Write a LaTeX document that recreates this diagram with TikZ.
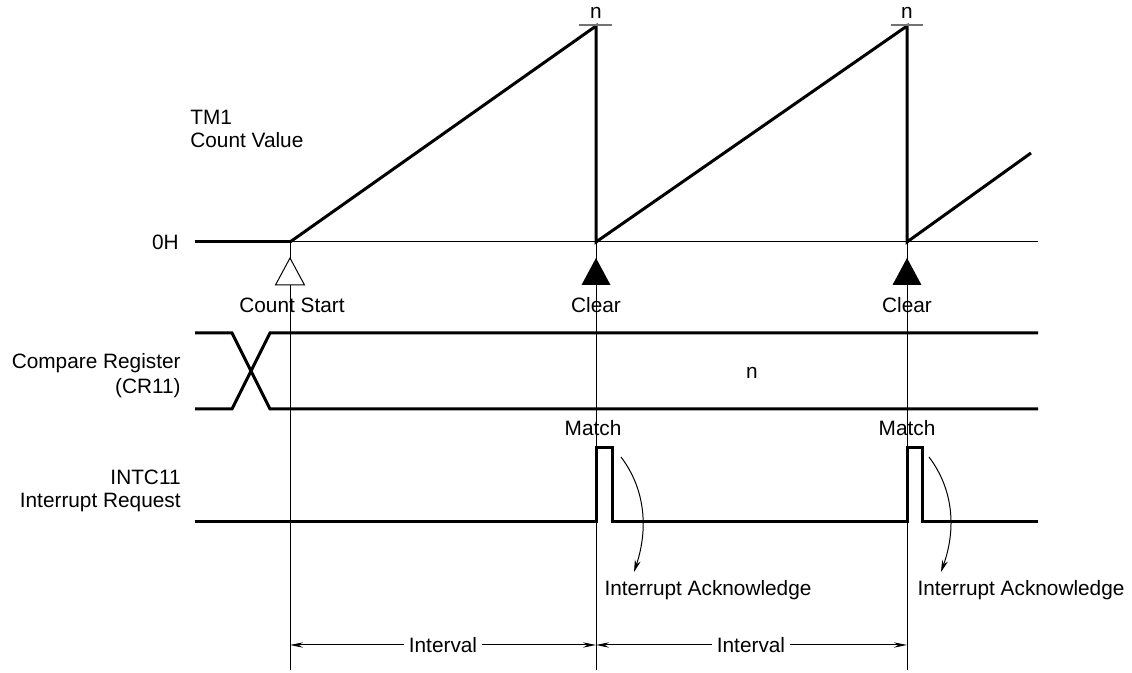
\documentclass[tikz,border=0pt]{standalone}
\usepackage{fontspec}
\setmainfont{Liberation Sans}
\usetikzlibrary{arrows.meta}
\begin{document}
\begin{tikzpicture}[x=0.5pt,y=-0.5pt,
  thickline/.style={line width=1.5pt, line join=miter},
  thinline/.style={line width=0.5pt},
  lbl/.style={font=\fontsize{10.4}{12.5}\selectfont, inner sep=0pt, text height=7.5pt, text depth=0pt},
  dimarrow/.style={line width=0.5pt, {Stealth[length=6.5pt,width=2.6pt]}-{Stealth[length=6.5pt,width=2.6pt]}},
  ackarrow/.style={line width=0.5pt, -{Stealth[length=6pt,width=3pt]}},
  nmark/.style={draw=black!55, line width=0.9pt},
]
\useasboundingbox (0,0) rectangle (1132,673);

% coordinates of the count value
\coordinate (z0) at (195,242);
\coordinate (s) at (290,242);
\coordinate (p1) at (596,26);
\coordinate (c1) at (596,242);
\coordinate (p2) at (907,26);
\coordinate (c2) at (907,242);
\coordinate (e3) at (1031,153);
\coordinate (z1) at (1038,242);

% thin vertical guide lines
\coordinate (v0b) at (290,670);
\coordinate (v1b) at (596,670);
\coordinate (v2b) at (907,670);
\draw[thinline] (s) -- (v0b);
\draw[thinline] (c1) -- (v1b);
\draw[thinline] (c2) -- (v2b);

% zero line
\draw[thickline] (z0) -- (s);
\draw[thinline] (s) -- (z1);

% sawtooth
\draw[thickline] (s) -- (p1) -- (c1) -- (p2) -- (c2) -- (e3);

% n markers
\draw[nmark] (579,25) -- (612,25);
\draw[nmark] (891,25) -- (923,25);
\node[lbl] (n1) at (596,11) {n};
\node[lbl] (n2) at (907,11) {n};

% left labels
\node[lbl, anchor=west] (tm1) at (190,117) {TM1};
\node[lbl, anchor=west] (cv) at (190,140) {Count Value};
\node[lbl, anchor=east] (zh) at (179,242) {0H};
\node[lbl, anchor=east] (cr) at (181,361) {Compare Register};
\node[lbl, anchor=east] (cr11) at (181,386) {(CR11)};
\node[lbl, anchor=east] (intc) at (181,477) {INTC11};
\node[lbl, anchor=east] (ireq) at (181,500) {Interrupt Request};

% triangles
\draw[thinline, fill=white] (290,258) -- (304.5,285) -- (275.5,285) -- cycle;
\fill (596,258) -- (610.5,285) -- (581.5,285) -- cycle;
\fill (907,258) -- (921.5,285) -- (892.5,285) -- cycle;
\node[lbl] (cs) at (292,305) {Count Start};
\node[lbl] (cl1) at (596,305) {Clear};
\node[lbl] (cl2) at (907,305) {Clear};

% compare register
\draw[thickline] (195,333) -- (232,333) -- (270,409) -- (1038,409);
\draw[thickline] (195,409) -- (232,409) -- (270,333) -- (1038,333);
\node[lbl] (nv) at (752,371) {n};

% interrupt request
\draw[thickline] (195,522) -- (596,522) -- (596,448) -- (612,448) -- (612,522)
  -- (907,522) -- (907,448) -- (922,448) -- (922,522) -- (1038,522);
\node[lbl] (m1) at (593,428) {Match};
\node[lbl] (m2) at (907,428) {Match};

% acknowledge arrows
\node[lbl] (ack1) at (708,588) {Interrupt Acknowledge};
\node[lbl] (ack2) at (1021,588) {Interrupt Acknowledge};
\coordinate (a1s) at (621,457);
\coordinate (a1e) at (634,572);
\coordinate (a2s) at (929,457);
\coordinate (a2e) at (941,572);
\draw[ackarrow] (a1s) .. controls (646,490) and (648,530) .. (a1e);
\draw[ackarrow] (a2s) .. controls (954,490) and (956,530) .. (a2e);

% intervals
\coordinate (i0) at (290,645);
\coordinate (i1) at (596,645);
\coordinate (i2) at (907,645);
\draw[dimarrow] (i0) -- (i1);
\draw[dimarrow] (i1) -- (i2);
\node[lbl, fill=white, inner xsep=2.5pt] (int1) at (443,645) {Interval};
\node[lbl, fill=white, inner xsep=2.5pt] (int2) at (751,645) {Interval};
\end{tikzpicture}
\end{document}
